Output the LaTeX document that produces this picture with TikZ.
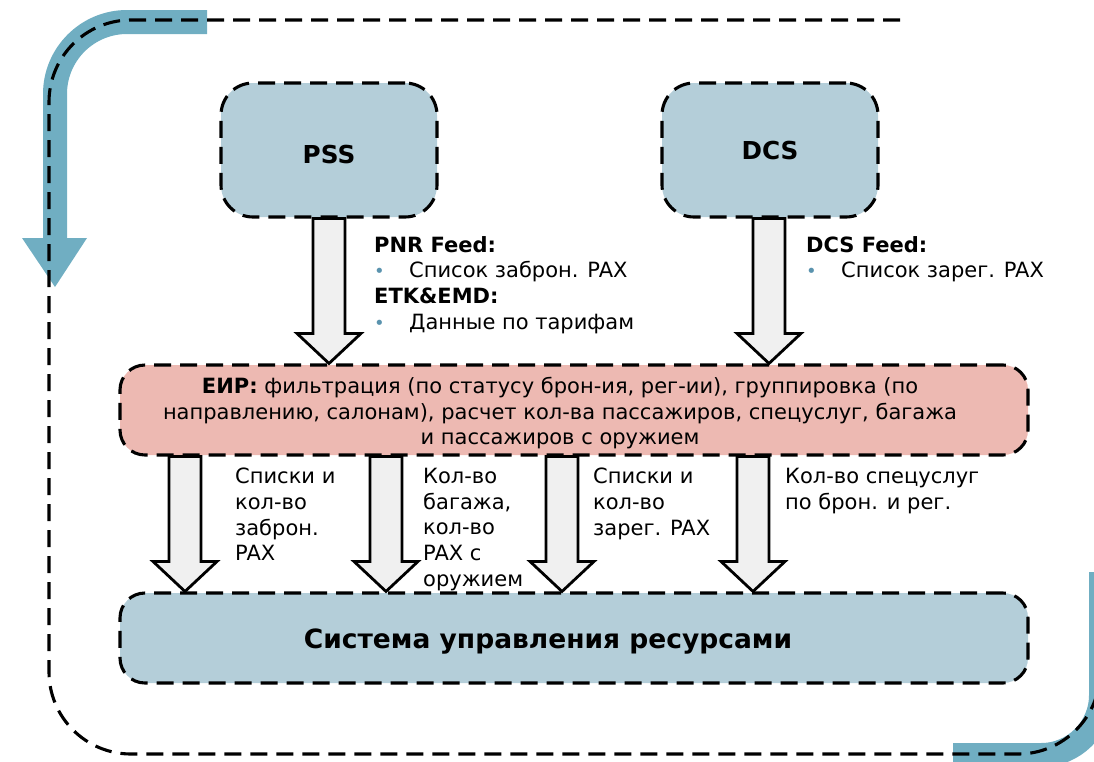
\documentclass[tikz,border=0pt]{standalone}
\usepackage{fontspec}
\setmainfont{DejaVu Sans}
\usetikzlibrary{calc}
\definecolor{boxblue}{HTML}{B4CED9}
\definecolor{boxpink}{HTML}{EDB9B2}
\definecolor{bandblue}{HTML}{70AEC2}
\definecolor{bulcol}{HTML}{5A93AE}
\definecolor{arrfill}{HTML}{F0F0F0}
\newcommand\bul{\makebox[35pt][l]{\hspace*{0pt}\textcolor{bulcol}{\fontsize{18}{18}\selectfont •}}}
\newcommand\blockarr[3]{%
  \draw[blockarrow] let \p1=(#2.south), \p2=(#3.north) in
    ({#1pt-16pt},\y1) -- ({#1pt+16pt},\y1) -- ({#1pt+16pt},\y2+30pt) --
    ({#1pt+32pt},\y2+30pt) -- (#1pt,\y2) -- ({#1pt-32pt},\y2+30pt) --
    ({#1pt-16pt},\y2+30pt) -- cycle;}
\begin{document}
\begin{tikzpicture}[x=1pt,y=-1pt,
  dashline/.style={line width=3.1pt, dash pattern=on 17pt off 9pt},
  bandline/.style={line width=24pt, draw=bandblue},
  topbox/.style={draw, dashline, fill=boxblue, rounded corners=32pt,
    minimum width=216pt, minimum height=134pt, inner sep=0pt},
  widebox/.style={draw, dashline, rounded corners=25pt,
    minimum width=908pt, minimum height=90pt, inner sep=0pt},
  blockarrow/.style={draw=black, line width=2.8pt, fill=arrfill, line join=miter},
  txt/.style={font=\fontsize{21}{25.7}\selectfont, align=left, inner sep=0pt},
  ctxt/.style={font=\fontsize{21}{25.7}\selectfont, align=center, inner sep=0pt},
  bigtxt/.style={font=\fontsize{24.7}{28}\selectfont\bfseries, inner sep=0pt}
]
\useasboundingbox (0,0) rectangle (1094,761);
\clip (0,0) rectangle (1094,761);

% outer loop: blue bands
\draw[bandline, rounded corners=72pt] (207,22) -- (55,22) -- (55,240);
\fill[bandblue] (22,238) -- (87,238) -- (55,287) -- cycle;
\draw[bandline, rounded corners=60pt] (953,755) -- (1101,755) -- (1101,572);
% outer loop: dashed line
\draw[dashline, rounded corners=82pt] (900,20) -- (49,20) -- (49,754) -- (1100,754) -- (1100,540);

% boxes
\node[topbox] (pss) at (329,150) {};
\node[topbox] (dcs) at (770,150) {};
\node[widebox, fill=boxpink] (eir) at (574,410) {};
\node[widebox, fill=boxblue] (sys) at (574,638) {};

\node[bigtxt, anchor=base] (psst) at (329,163) {PSS};
\node[bigtxt, anchor=base] (dcst) at (770,159) {DCS};
\node[bigtxt, anchor=base, font=\fontsize{26.5}{30}\selectfont\bfseries] (syst) at (548,648) {Система управления ресурсами};
\node[ctxt, anchor=north] (eirt) at (560,377)
  {\textbf{ЕИР:} фильтрация (по статусу брон-ия, рег-ии), группировка (по\\
   направлению, салонам), расчет кол-ва пассажиров, спецуслуг, багажа\\
   и пассажиров с оружием};

% block arrows
\blockarr{329}{pss}{eir}
\blockarr{769}{dcs}{eir}
\blockarr{185}{eir}{sys}
\blockarr{386}{eir}{sys}
\blockarr{562}{eir}{sys}
\blockarr{753}{eir}{sys}

% labels
\node[txt, anchor=north west] (pnrl) at (374,236)
  {\textbf{PNR Feed:}\\ \bul Список заброн. PAX\\ \textbf{ETK\&EMD:}\\ \bul Данные по тарифам};
\node[txt, anchor=north west] (dcsl) at (806,236)
  {\textbf{DCS Feed:}\\ \bul Список зарег. PAX};
\node[txt, anchor=north west] (l1) at (235,468) {Списки и\\кол-во\\заброн.\\PAX};
\node[txt, anchor=north west] (l2) at (423,468) {Кол-во\\багажа,\\кол-во\\PAX с\\оружием};
\node[txt, anchor=north west] (l3) at (593,468) {Списки и\\кол-во\\зарег. PAX};
\node[txt, anchor=north west] (l4) at (785,468) {Кол-во спецуслуг\\по брон. и рег.};
\end{tikzpicture}
\end{document}
